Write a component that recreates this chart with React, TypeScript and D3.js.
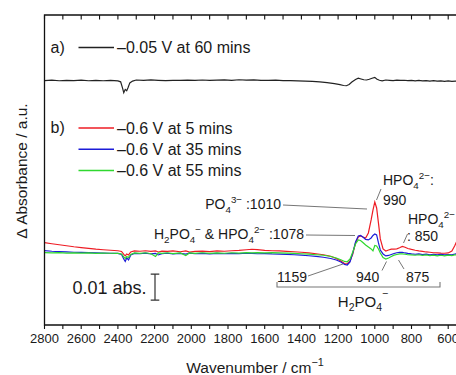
import { useEffect, useRef } from 'react';
import * as d3 from 'd3';

const W = 456;
const H = 375;
const FONT = '"Liberation Sans", Arial, Helvetica, sans-serif';

// x: wavenumber / cm-1 ; y: delta absorbance in mAbs (0.01 abs = 10)
const X_TICKS = [2800, 2600, 2400, 2200, 2000, 1800, 1600, 1400, 1200, 1000, 800, 600, 400];
const X_MINOR = [2700, 2500, 2300, 2100, 1900, 1700, 1500, 1300, 1100, 900, 700, 500];

const OFFSET_A = 94;
const OFFSET_B = 27.7;
const SCALE_BAR = [9.6, 19.6];

const WN_A = [
  2800, 2760, 2720, 2680, 2640, 2600, 2560, 2520, 2480, 2440,
  2400, 2385, 2375, 2368, 2360, 2352, 2345, 2335, 2320, 2300,
  2260, 2220, 2180, 2140, 2100, 2060, 2020, 1980, 1940, 1900,
  1860, 1820, 1780, 1740, 1700, 1660, 1620, 1580, 1540, 1500,
  1460, 1420, 1380, 1340, 1300, 1260, 1220, 1190, 1170, 1155,
  1140, 1125, 1105, 1090, 1075, 1060, 1045, 1030, 1015, 1000,
  990, 975, 960, 940, 920, 900, 880, 860, 840, 820,
  800, 780, 760, 740, 720, 700, 680, 660, 640, 620,
  600, 580, 560, 540, 520, 500, 450, 400,
];
const SERIES_A = [
  0, 0.15, -0.08, 0.08, -0.04, 0.12, -0.08, 0.04, -0.08, 0.08,
  -0.12, -0.5, -2.8, -4.7, -3.4, -3.9, -2.8, -0.9, -0.2, 0.2,
  0.05, 0.25, 0.1, -0.05, 0.1, 0.05, 0.15, 0.1, 0.2, 0.05,
  0.15, 0.25, 0.1, 0.3, 0.15, 0.25, 0.1, 0.05, 0.15, 0,
  -0.05, -0.1, -0.2, -0.35, -0.5, -0.8, -1.2, -1.6, -1.9, -2.0,
  -1.5, -0.6, 0.4, 0.9, 0.6, 0.3, 0.2, 0.5, 0.9, 1.2,
  0.6, 0.1, -0.1, 0.2, 0.1, 0, 0.15, 0.05, 0.1, -0.05,
  0.05, -0.1, 0.05, -0.15, 0, -0.2, -0.05, -0.25, -0.1, -0.3,
  -0.15, -0.3, -0.2, -0.35, -0.2, -0.3, -0.3, -0.3,
];

const WN_B = [
  2800, 2760, 2720, 2680, 2640, 2600, 2560, 2520, 2480, 2440,
  2400, 2380, 2368, 2360, 2352, 2342, 2330, 2310, 2280, 2250,
  2220, 2195, 2180, 2160, 2130, 2100, 2060, 2030, 2010, 1980,
  1940, 1900, 1860, 1820, 1780, 1740, 1700, 1670, 1640, 1600,
  1560, 1520, 1480, 1440, 1400, 1360, 1320, 1280, 1240, 1210,
  1185, 1165, 1150, 1135, 1120, 1105, 1090, 1078, 1065, 1050,
  1035, 1020, 1010, 1000, 990, 980, 970, 955, 940, 925,
  910, 895, 880, 865, 850, 835, 820, 800, 780, 760,
  740, 720, 700, 680, 660, 640, 620, 600, 580, 565,
  550, 530, 500, 450, 400,
];
const RED_B = [
  3.96, 3.54, 3.15, 2.77, 2.38, 2.08, 1.77, 1.46, 1.23, 1.04,
  0.85, 0.58, -0.58, -1.15, -0.38, -0.77, 0.38, 0.77, 0.65, 0.85,
  0.58, 0.77, 0.38, 0.69, 0.58, 0.77, 0.46, 0.77, 0.31, 0.58,
  0.69, 0.54, 0.77, 0.65, 0.85, 0.96, 1.23, 1.42, 1.31, 0.96,
  0.85, 0.77, 0.62, 0.46, 0.27, 0, -0.31, -0.69, -1.27, -2.12,
  -3.08, -4.04, -4.23, -3.08, -0.38, 3.85, 6.15, 6.54, 6.15, 5.77,
  7.7, 12.7, 16.5, 19.6, 17.3, 11.5, 5.4, 1.54, 0.77, 1.15,
  1.5, 1.5, 1.6, 2.0, 2.5, 2.2, 1.73, 1.35, 1.04, 0.77,
  0.58, 0.38, 0.27, 0.08, 0, -0.08, -0.12, 0, 0.77, 2.69,
  5.0, 7.31, 9.62, 11.92, 13.46,
];
const BLUE_B = [
  0.88, 0.65, 0.54, 0.38, 0.27, 0.19, 0.12, 0, -0.08, -0.12,
  -0.19, -0.58, -2.31, -3.27, -1.92, -2.69, -0.77, -0.19, -0.31, -0.08,
  -0.38, -0.19, -0.77, -0.27, -0.12, -0.38, -0.19, -0.46, -0.08, -0.31,
  -0.15, -0.38, -0.19, -0.31, -0.15, -0.27, -0.12, -0.19, -0.31, -0.23,
  -0.38, -0.46, -0.58, -0.69, -0.85, -1.08, -1.35, -1.65, -2.12, -2.69,
  -3.46, -4.42, -4.62, -3.46, 0, 4.23, 6.54, 6.73, 6.15, 5.19,
  5.0, 5.77, 6.73, 7.31, 6.92, 3.85, 1.15, -0.38, -1.15, -0.96,
  -0.58, -0.19, 0.08, 0.19, 0.27, 0, -0.19, -0.38, -0.5, -0.38,
  -0.62, -0.46, -0.69, -0.5, -0.77, -0.58, -0.77, -0.62, -0.69, -0.46,
  -0.19, 0.19, 0.77, 1.54, 1.92,
];
const GREEN_B = [
  0.12, 0, 0.12, -0.08, 0.04, -0.08, 0, -0.15, -0.04, -0.12,
  -0.15, -0.38, -1.54, -2.12, -1.35, -1.73, -0.58, 0, -0.19, 0.08,
  -0.31, -1.35, 0, -0.19, 0.08, -0.23, 0.04, -0.96, 0, -0.19,
  0.08, -0.19, 0, -0.12, 0.08, -0.08, 0.12, 0, 0.15, 0,
  0.12, 0, -0.08, -0.19, -0.31, -0.46, -0.69, -0.88, -1.35, -1.92,
  -2.62, -3.27, -3.38, -2.31, 0.38, 3.46, 5.0, 4.81, 4.04, 3.08,
  2.31, 1.54, 0.77, 2.88, 2.69, 1.5, 0, -1.73, -2.31, -1.92,
  -1.35, -0.85, -0.58, -0.38, -0.38, -0.5, -0.69, -0.77, -0.88, -0.69,
  -0.96, -0.77, -1.0, -0.85, -1.08, -0.88, -1.08, -0.85, -1.0, -0.77,
  -0.69, -0.5, -0.19, 0.19, 0.38,
];

const LEGEND_B = [
  { label: '–0.6 V at 5 mins', color: '#ee1c24', values: RED_B },
  { label: '–0.6 V at 35 mins', color: '#1c1cd8', values: BLUE_B },
  { label: '–0.6 V at 55 mins', color: '#2fd82f', values: GREEN_B },
];

type Part = [string, 'n' | 'sub' | 'sup'];

function rich(
  g: d3.Selection<SVGGElement, unknown, null, undefined>,
  x: number,
  y: number,
  parts: Part[],
  size: number,
  anchor = 'start',
  supShift = 0.42,
) {
  const t = g
    .append('text')
    .attr('x', x)
    .attr('y', y)
    .attr('font-size', size)
    .attr('text-anchor', anchor)
    .attr('fill', '#1a1a1a');
  let shift = 0;
  parts.forEach(([s, kind]) => {
    const target = kind === 'sub' ? size * 0.3 : kind === 'sup' ? -size * supShift : 0;
    t.append('tspan')
      .attr('dy', target - shift)
      .attr('font-size', kind === 'n' ? size : size * 0.7)
      .text(s);
    shift = target;
  });
  return t;
}

export default function App() {
  const svgRef = useRef<SVGSVGElement>(null);

  useEffect(() => {
    const svg = d3.select(svgRef.current);
    svg.selectAll('*').remove();
    const root = svg.append('g') as d3.Selection<SVGGElement, unknown, null, undefined>;

    const x = d3.scaleLinear().domain([2800, 400]).range([44.5, 484.9]);
    const y = d3.scaleLinear().domain([0, 119.2]).range([325, 15]);

    const line = (wn: number[], off: number) =>
      d3
        .line<number>()
        .x((_, i) => x(wn[i]))
        .y((v) => y(v + off));

    // spectra
    LEGEND_B.forEach((s) => {
      root
        .append('path')
        .attr('d', line(WN_B, OFFSET_B)(s.values))
        .attr('fill', 'none')
        .attr('stroke', s.color)
        .attr('stroke-width', 1.2);
    });
    root
      .append('path')
      .attr('d', line(WN_A, OFFSET_A)(SERIES_A))
      .attr('fill', 'none')
      .attr('stroke', '#222')
      .attr('stroke-width', 1.2);

    // frame
    const [x0] = x.range();
    const [yb, yt] = y.range();
    root
      .append('path')
      .attr('d', `M${W + 5},${yt}H${x0}V${yb}H${W + 5}`)
      .attr('fill', 'none')
      .attr('stroke', '#111')
      .attr('stroke-width', 1.3);

    // ticks
    const ticks = root.append('g').attr('stroke', '#111').attr('stroke-width', 1.1);
    [...X_TICKS, ...X_MINOR].forEach((v) => {
      ticks.append('line').attr('x1', x(v)).attr('x2', x(v)).attr('y1', yt).attr('y2', yt + 4.5);
      ticks.append('line').attr('x1', x(v)).attr('x2', x(v)).attr('y1', yb).attr('y2', yb + 4);
    });
    root
      .append('g')
      .selectAll('text')
      .data(X_TICKS)
      .join('text')
      .attr('x', (d) => x(d))
      .attr('y', 343)
      .attr('text-anchor', 'middle')
      .attr('font-size', 13)
      .attr('fill', '#1a1a1a')
      .text((d) => d);

    // axis titles
    rich(root, 255, 372.5, [['Wavenumber / cm', 'n'], ['−1', 'sup']], 15.5, 'middle');
    root
      .append('text')
      .attr('transform', 'translate(27,171) rotate(-90)')
      .attr('text-anchor', 'middle')
      .attr('font-size', 15.5)
      .attr('fill', '#1a1a1a')
      .text('Δ Absorbance / a.u.');

    // legends
    const lg = root.append('g').attr('font-size', 16).attr('fill', '#1a1a1a');
    lg.append('text').attr('x', 50.5).attr('y', 53).text('a)');
    lg.append('line').attr('x1', 78.5).attr('x2', 114).attr('y1', 47.5).attr('y2', 47.5).attr('stroke', '#222').attr('stroke-width', 1.3);
    lg.append('text').attr('x', 117).attr('y', 53).text('–0.05 V at 60 mins');
    lg.append('text').attr('x', 50.5).attr('y', 133).text('b)');
    LEGEND_B.forEach((s, i) => {
      const ly = 128 + i * 21.3;
      lg.append('line').attr('x1', 78.5).attr('x2', 114).attr('y1', ly).attr('y2', ly).attr('stroke', s.color).attr('stroke-width', 1.5);
      lg.append('text').attr('x', 117).attr('y', ly + 5.5).text(s.label);
    });

    // annotations
    const an = root.append('g');
    const lead = (x1: number, y1: number, x2: number, y2: number) =>
      an.append('line').attr('x1', x1).attr('y1', y1).attr('x2', x2).attr('y2', y2).attr('stroke', '#666').attr('stroke-width', 0.9);
    const A = 14;
    rich(an, 281, 208.5, [['PO', 'n'], ['4', 'sub'], ['3−', 'sup'], [' :1010', 'n']], A, 'end');
    lead(283, 205, 367, 209);
    rich(an, 304, 239, [['H', 'n'], ['2', 'sub'], ['PO', 'n'], ['4', 'sub'], ['−', 'sup'], [' & HPO', 'n'], ['4', 'sub'], ['2−', 'sup'], [' :1078', 'n']], A, 'end');
    lead(306, 235, 355, 235.5);
    rich(an, 383, 185, [['HPO', 'n'], ['4', 'sub'], ['2−', 'sup'], [':', 'n']], A);
    rich(an, 383, 205, [['990', 'n']], A);
    lead(376.5, 200, 381, 189);
    rich(an, 408, 224, [['HPO', 'n'], ['4', 'sub'], ['2−', 'sup']], A);
    rich(an, 407, 241, [[': 850', 'n']], A);
    lead(403.5, 243, 407.5, 234);
    rich(an, 277, 281.5, [['1159', 'n']], A);
    lead(308, 276, 343, 264);
    rich(an, 356, 281.5, [['940', 'n']], A);
    lead(382, 270.5, 386.5, 261.5);
    rich(an, 406, 281.5, [['875', 'n']], A);
    lead(404, 269, 398.5, 260);
    an.append('path')
      .attr('d', 'M277,282V287H440V282')
      .attr('fill', 'none')
      .attr('stroke', '#777')
      .attr('stroke-width', 1.1);
    rich(an, 363, 306.5, [['H', 'n'], ['2', 'sub'], ['PO', 'n'], ['4', 'sub'], ['−', 'sup']], 15, 'middle', 0.62);

    // scale bar 0.01 abs
    const sx = 155;
    const s0 = y(SCALE_BAR[0]);
    const s1 = y(SCALE_BAR[1]);
    an.append('path')
      .attr('d', `M${sx - 4.3},${s1}H${sx + 4.3}M${sx},${s1}V${s0}M${sx - 4.3},${s0}H${sx + 4.3}`)
      .attr('fill', 'none')
      .attr('stroke', '#333')
      .attr('stroke-width', 1.2);
    an.append('text').attr('x', 72.5).attr('y', 293.5).attr('font-size', 18).attr('fill', '#1a1a1a').text('0.01 abs.');
  }, []);

  return (
    <svg
      ref={svgRef}
      width={W}
      height={H}
      style={{ position: 'absolute', left: 0, top: 0, fontFamily: FONT, background: '#fff' }}
    />
  );
}
